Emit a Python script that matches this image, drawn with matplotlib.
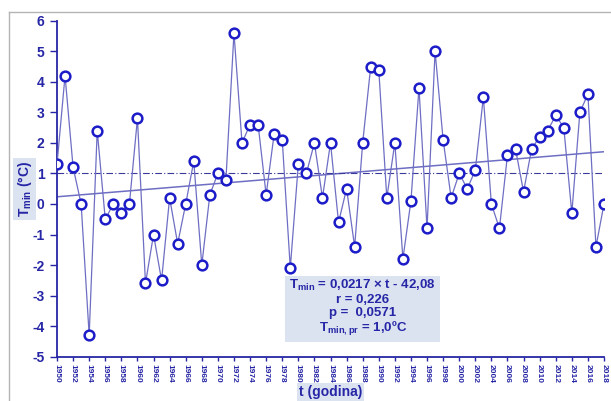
import matplotlib
matplotlib.use("Agg")
import matplotlib.pyplot as plt
from matplotlib.lines import Line2D

plt.rcParams['font.family'] = ['Liberation Sans', 'DejaVu Sans']
plt.rcParams['mathtext.fontset'] = 'custom'
plt.rcParams['mathtext.bf'] = 'Liberation Sans:bold'
plt.rcParams['mathtext.rm'] = 'Liberation Sans:bold'
plt.rcParams['mathtext.default'] = 'bf'

years = list(range(1950, 2019))
tmin = [1.3, 4.2, 1.2, 0.0, -4.3, 2.4, -0.5, 0.0, -0.3, 0.0,
        2.8, -2.6, -1.0, -2.5, 0.2, -1.3, 0.0, 1.4, -2.0, 0.3,
        1.0, 0.8, 5.6, 2.0, 2.6, 2.6, 0.3, 2.3, 2.1, -2.1,
        1.3, 1.0, 2.0, 0.2, 2.0, -0.6, 0.5, -1.4, 2.0, 4.5,
        4.4, 0.2, 2.0, -1.8, 0.1, 3.8, -0.8, 5.0, 2.1, 0.2,
        1.0, 0.5, 1.1, 3.5, 0.0, -0.8, 1.6, 1.8, 0.4, 1.8,
        2.2, 2.4, 2.9, 2.5, -0.3, 3.0, 3.6, -1.4, 0.0]
slope = 0.0217
intercept = -42.08
tmin_mean = 1.0

dark = '#2626a6'
marker_col = '#1c1cc8'
line_col = '#6e6ec4'
box_col = '#dbe3f1'

fig = plt.figure(figsize=(6.11, 4.01), dpi=100)
ax = fig.add_axes([57 / 611, 1 - 356.7 / 401, (604 - 57) / 611, (356.7 - 20.7) / 401])

# outer chart frame (gray), cut off at right/bottom
fig.add_artist(Line2D([9 / 611, 9 / 611], [0, 1 - 12 / 401], transform=fig.transFigure,
                      color='#b4b4b4', lw=1))
fig.add_artist(Line2D([9 / 611, 1], [1 - 12 / 401, 1 - 12 / 401], transform=fig.transFigure,
                      color='#b4b4b4', lw=1))

ax.plot(years, tmin, color=line_col, lw=0.9, marker='o', markersize=7,
        markerfacecolor='white', markeredgecolor=marker_col, markeredgewidth=1.8, zorder=3)

trend = [slope * y + intercept for y in (years[0], years[-1])]
ax.plot([years[0], years[-1]], trend, color=line_col, lw=1.1, zorder=2)
ax.plot([years[0], years[-1]], [tmin_mean, tmin_mean], color='#3a3a9a', lw=0.8,
        linestyle=(0, (6, 2, 1, 2)), zorder=2)

ax.set_xlim(1950, 2018)
ax.set_ylim(-5, 6)
ax.set_xticks(years[::2])
ax.set_xticklabels([str(y) for y in years[::2]], rotation=-90, fontsize=6,
                   fontweight='bold', color=dark)
ax.set_yticks(range(-5, 7))
ax.set_yticklabels([str(v) for v in range(-5, 7)], fontsize=10, fontweight='bold', color=dark)
ax.tick_params(axis='x', direction='out', length=3, width=1, color=dark, pad=2)
ax.tick_params(axis='y', direction='out', length=5, width=1, color=dark, pad=4)

for side in ['top', 'right']:
    ax.spines[side].set_visible(False)
for side in ['left', 'bottom']:
    ax.spines[side].set_color(dark)
    ax.spines[side].set_linewidth(1.3)

ax.set_xlabel('t (godina)', fontsize=10, fontweight='bold', color=dark, labelpad=2,
              bbox=dict(facecolor=box_col, edgecolor='none', pad=1.5))
ax.set_ylabel(r'T$_{min}$ (°C)', fontsize=10, fontweight='bold', color=dark, labelpad=-1,
              bbox=dict(facecolor=box_col, edgecolor='none', pad=2))

eq = ('T$_{min}$ = 0,0217 × t - 42,08\n'
      'r = 0,226\n'
      'p =  0,0571\n'
      'T$_{min,pr}$ = 1,0ºC')
ax.text(1988, -3.4, eq, ha='center', va='center', multialignment='center',
        fontsize=9.5, fontweight='bold', color=dark, linespacing=1.1,
        bbox=dict(facecolor=box_col, edgecolor='none', pad=3))

fig.savefig('out.png', dpi=100)
